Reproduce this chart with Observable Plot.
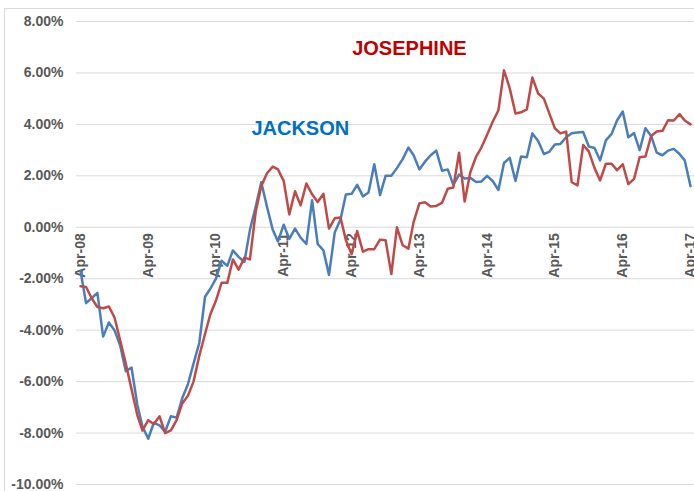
<!DOCTYPE html>
<html>
<head>
<meta charset="utf-8">
<script src="https://cdn.jsdelivr.net/npm/d3@7"></script>
<script src="https://cdn.jsdelivr.net/npm/@observablehq/plot@0.6"></script>
<style>
  html, body { margin: 0; padding: 0; background: #fff; overflow: hidden; }
  #wrap { position: relative; width: 694px; height: 491px; overflow: hidden; }
  #border { position: absolute; left: 4px; top: 8px; width: 700px; height: 500px;
            border-left: 1px solid #d9d9d9; border-top: 1px solid #d9d9d9; pointer-events: none; }
  #chart svg { display: block; }
</style>
</head>
<body>
<div id="wrap"><div id="chart"></div><div id="border"></div></div>
<script>
// Monthly values, Apr-08 .. Apr-17 (percent)
const jackson = [
  -1.7, -2.95, -2.75, -2.55, -4.25, -3.7, -4.0, -4.6, -5.6, -5.45,
  -6.9, -7.75, -8.22, -7.6, -7.7, -7.95, -7.35, -7.4, -6.65, -6.1,
  -5.3, -4.5, -2.7, -2.4, -2.0, -1.3, -1.5, -0.9, -1.15, -1.35,
  -0.1, 0.8, 1.75, 0.8, -0.1, -0.55, 0.1, -0.45, -0.05, -0.4,
  -0.65, 1.05, -0.65, -0.9, -1.85, -0.2, 0.3, 1.27, 1.3, 1.65,
  1.2, 1.35, 2.45, 1.25, 2.0, 2.0, 2.3, 2.65, 3.1, 2.8,
  2.25, 2.55, 2.8, 2.98, 2.2, 2.25, 1.65, 2.05, 1.9, 1.92,
  1.76, 1.78, 2.0, 1.8, 1.45, 2.5, 2.7, 1.8, 2.75, 2.72,
  3.65, 3.35, 2.85, 2.93, 3.22, 3.24, 3.5, 3.66, 3.68, 3.7,
  3.14, 3.08, 2.6, 3.38, 3.63, 4.15, 4.5, 3.5, 3.66, 3.0,
  3.85, 3.55, 2.9, 2.8, 2.98, 3.05, 2.85, 2.6, 1.6
];
const josephine = [
  -2.29, -2.32, -2.77, -3.1, -3.15, -3.08, -3.5, -4.4, -5.3, -6.3,
  -7.3, -7.9, -7.5, -7.65, -7.35, -8.0, -7.9, -7.5, -6.85, -6.55,
  -6.0, -5.0, -4.15, -3.4, -2.85, -2.16, -2.16, -1.25, -1.65, -1.18,
  -1.25, 0.6, 1.6, 2.1, 2.36, 2.25, 1.8, 0.5, 1.4, 0.85,
  1.7, 1.28, 0.98, 1.3, -0.05, 0.35, 0.38, -0.5, -1.05, -0.15,
  -0.95, -0.85, -0.85, -0.48, -0.5, -1.82, 0.0, -0.7, -0.83, 0.2,
  0.93, 0.97, 0.81, 0.83, 0.95, 1.5, 1.55, 2.9, 1.0, 2.15,
  2.75, 3.1, 3.6, 4.1, 4.55, 6.1, 5.4, 4.42, 4.47, 4.58,
  5.82, 5.2, 5.0, 4.45, 3.85, 3.65, 3.72, 1.75, 1.63, 3.2,
  2.95, 2.3, 1.82, 2.47, 2.47, 2.22, 2.45, 1.68, 1.88, 2.72,
  2.75, 3.55, 3.72, 3.75, 4.16, 4.15, 4.4, 4.15, 4.0
];
const xTickLabels = ["Apr-08","Apr-09","Apr-10","Apr-11","Apr-12","Apr-13","Apr-14","Apr-15","Apr-16","Apr-17"];
const yTicks = [-10, -8, -6, -4, -2, 0, 2, 4, 6, 8];
const seriesNames = ["JACKSON", "JOSEPHINE"];
const seriesColors = ["#4a7ebb", "#be4b48"];
const labelColors = ["#0070c0", "#c00000"];
const labelPos = [
  {date: new Date(Date.UTC(2010, 9, 9)), value: 3.57},
  {date: new Date(Date.UTC(2012, 3, 4)), value: 6.71}
];

const start = new Date(Date.UTC(2008, 3, 1));
const months = d3.utcMonth.range(start, d3.utcMonth.offset(start, jackson.length));
const jData = months.map((d, i) => ({date: d, value: jackson[i]}));
const pData = months.map((d, i) => ({date: d, value: josephine[i]}));
const tickDates = xTickLabels.map((_, i) => d3.utcYear.offset(start, i));
const labels = seriesNames.map((n, i) => ({name: n, color: labelColors[i], ...labelPos[i]}));

const font = "'Liberation Sans', Arial, sans-serif";
const chart = Plot.plot({
  width: 694,
  height: 491,
  marginLeft: 80,
  marginRight: 4,
  marginTop: 21,
  marginBottom: 7,
  style: {fontFamily: font, fontSize: "14px", fontWeight: "bold", color: "#595959", background: "transparent"},
  x: {type: "utc", domain: [tickDates[0], tickDates[tickDates.length - 1]], axis: null},
  y: {domain: [-10, 8], axis: null},
  marks: [
    Plot.ruleY(yTicks, {stroke: "#d9d9d9", strokeWidth: 1, insetLeft: -4, insetRight: -4}),
    Plot.axisY({ticks: yTicks, label: null, tickSize: 0, tickPadding: 17, tickFormat: d => d.toFixed(2) + "%", fill: "#595959", fontWeight: "bold", fontSize: 14}),
    Plot.text(tickDates, {x: d => d, y: () => 0, text: (d, i) => xTickLabels[i], rotate: -90, textAnchor: "end", dy: 6, fill: "#595959", fontSize: 14, fontWeight: "bold"}),
    Plot.line(jData, {x: "date", y: "value", stroke: seriesColors[0], strokeWidth: 2.5}),
    Plot.line(pData, {x: "date", y: "value", stroke: seriesColors[1], strokeWidth: 2.5}),
    Plot.text(labels, {x: "date", y: "value", text: "name", fill: "color", textAnchor: "start", lineAnchor: "bottom", fontSize: 20, fontWeight: "bold"})
  ]
});
document.getElementById("chart").appendChild(chart);
</script>
</body>
</html>
